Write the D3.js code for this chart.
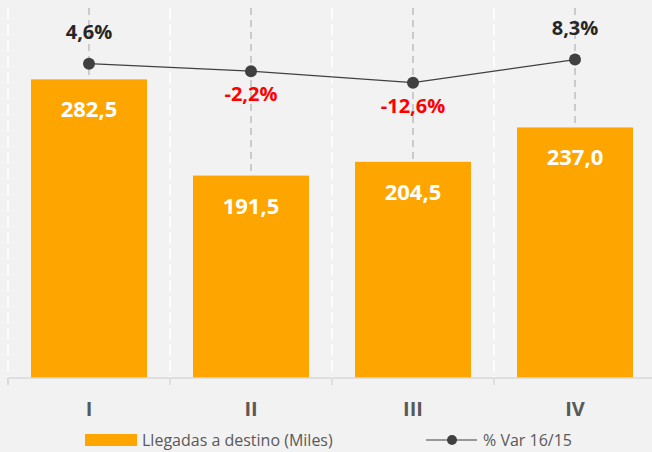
<!DOCTYPE html>
<html>
<head>
<meta charset="utf-8">
<script src="https://cdn.jsdelivr.net/npm/d3@7"></script>
<style>
  body { margin: 0; background: #f2f2f2; }
  svg { display: block; font-family: "Open Sans", sans-serif; }
</style>
</head>
<body>
<svg></svg>
<script>
"use strict";

var quarters = ["I", "II", "III", "IV"];
var llegadas = [282.5, 191.5, 204.5, 237.0];
var variacion = [4.6, -2.2, -12.6, 8.3];
var seriesNames = ["Llegadas a destino (Miles)", "% Var 16/15"];

var width = 652, height = 452;
var svg = d3.select("svg").attr("width", width).attr("height", height);

svg.append("rect").attr("width", width).attr("height", height).attr("fill", "#f2f2f2");

var x = d3.scaleBand().domain(quarters).range([8, 656]).paddingInner(0).paddingOuter(0);
var y = d3.scaleLinear().domain([0, 350]).range([378, 8]);
var y2 = d3.scaleLinear().domain([-280, 55]).range([378, 8]);

// comma decimals, plain hyphen for negatives
var fmt = function (v, d) {
  return d3.format("." + d + "f")(v).replace(".", ",").replace("\u2212", "-");
};

// white dashed grid at category boundaries
svg.append("g").selectAll("line").data(quarters).enter().append("line")
  .attr("x1", function (d) { return x(d); }).attr("x2", function (d) { return x(d); })
  .attr("y1", 8).attr("y2", 378)
  .attr("stroke", "#ffffff").attr("stroke-width", 1.5).attr("stroke-dasharray", "12,4");

// gray dashed drop lines at category centers
svg.append("g").selectAll("line").data(quarters).enter().append("line")
  .attr("x1", function (d) { return x(d) + x.bandwidth() / 2; })
  .attr("x2", function (d) { return x(d) + x.bandwidth() / 2; })
  .attr("y1", 8).attr("y2", 378)
  .attr("stroke", "#bfbfbf").attr("stroke-width", 1.5).attr("stroke-dasharray", "7,5");

// bars
var barW = 116;
svg.append("g").selectAll("rect").data(llegadas).enter().append("rect")
  .attr("x", function (d, i) { return x(quarters[i]) + x.bandwidth() / 2 - barW / 2; })
  .attr("y", function (d) { return y(d); })
  .attr("width", barW)
  .attr("height", function (d) { return y(0) - y(d); })
  .attr("fill", "#ffa500");

svg.append("g").selectAll("text").data(llegadas).enter().append("text")
  .attr("x", function (d, i) { return x(quarters[i]) + x.bandwidth() / 2; })
  .attr("y", function (d) { return y(d) + 38; })
  .attr("text-anchor", "middle")
  .attr("fill", "#ffffff").attr("font-weight", "bold").attr("font-size", "22px")
  .text(function (d) { return fmt(d, 1); });

// x axis
var xAxis = d3.axisBottom(x).tickSize(7).tickFormat("");
var axisG = svg.append("g").attr("transform", "translate(0,378)").call(xAxis);
axisG.select(".domain").attr("stroke", "#d9d9d9").attr("stroke-width", 1.5)
  .attr("d", "M8,7V0H652");
axisG.selectAll(".tick").attr("transform", function (d) { return "translate(" + x(d) + ",0)"; });
axisG.selectAll(".tick line").attr("stroke", "#d9d9d9").attr("stroke-width", 1.5);

svg.append("g").selectAll("text").data(quarters).enter().append("text")
  .attr("x", function (d) { return x(d) + x.bandwidth() / 2; })
  .attr("y", 416)
  .attr("text-anchor", "middle")
  .attr("fill", "#595959").attr("font-weight", "bold").attr("font-size", "20px")
  .text(function (d) { return d; });

// line series
var cx = function (d, i) { return x(quarters[i]) + x.bandwidth() / 2; };
var line = d3.line().x(cx).y(function (d) { return y2(d); });

svg.append("path").datum(variacion).attr("d", line)
  .attr("fill", "none").attr("stroke", "#404040").attr("stroke-width", 1.2);

svg.append("g").selectAll("circle").data(variacion).enter().append("circle")
  .attr("cx", cx).attr("cy", function (d) { return y2(d); })
  .attr("r", 6).attr("fill", "#404040");

svg.append("g").selectAll("text").data(variacion).enter().append("text")
  .attr("x", cx)
  .attr("y", function (d) { return d >= 0 ? y2(d) - 25 : y2(d) + 30; })
  .attr("text-anchor", "middle")
  .attr("fill", function (d) { return d >= 0 ? "#262626" : "#ff0000"; })
  .attr("font-weight", "bold").attr("font-size", "20px")
  .text(function (d) { return fmt(d, 1) + "%"; });

// legend
var leg = svg.append("g");
leg.append("rect").attr("x", 85).attr("y", 434).attr("width", 52).attr("height", 12).attr("fill", "#ffa500");
leg.append("text").attr("x", 142).attr("y", 446).attr("fill", "#595959").attr("font-size", "16px").text(seriesNames[0]);
leg.append("line").attr("x1", 426).attr("x2", 477).attr("y1", 440).attr("y2", 440)
  .attr("stroke", "#404040").attr("stroke-width", 1.2);
leg.append("circle").attr("cx", 452).attr("cy", 440).attr("r", 5).attr("fill", "#404040");
leg.append("text").attr("x", 483).attr("y", 446).attr("fill", "#595959").attr("font-size", "16px").text(seriesNames[1]);
</script>
</body>
</html>
